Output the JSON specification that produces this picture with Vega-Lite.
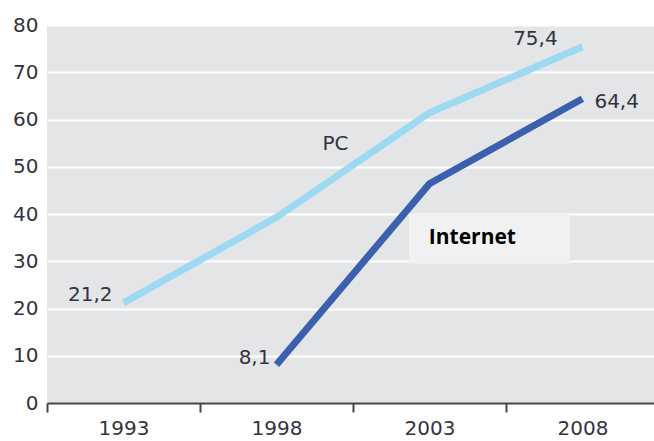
{
  "$schema": "https://vega.github.io/schema/vega-lite/v6.json",
  "autosize": "none",
  "width": 607,
  "height": 378,
  "padding": {"left": 47, "top": 25, "right": 0, "bottom": 38},
  "background": "white",
  "view": {"fill": "#e4e5e7", "stroke": null},
  "config": {
    "font": "DejaVu Sans",
    "axis": {"labelFont": "DejaVu Sans", "labelFontSize": 20, "labelColor": "#33333f", "title": null}
  },
  "datasets": {
    "series": [
      {"year": 1993, "series": "PC", "value": 21.2, "label": "21,2"},
      {"year": 1998, "series": "PC", "value": 39.3, "label": ""},
      {"year": 2003, "series": "PC", "value": 61.4, "label": ""},
      {"year": 2008, "series": "PC", "value": 75.4, "label": "75,4"},
      {"year": 1998, "series": "Internet", "value": 8.1, "label": "8,1"},
      {"year": 2003, "series": "Internet", "value": 46.4, "label": ""},
      {"year": 2008, "series": "Internet", "value": 64.4, "label": "64,4"}
    ]
  },
  "encoding": {
    "x": {
      "field": "year", "type": "quantitative",
      "scale": {"domain": [1990.5, 2010.34], "nice": false, "zero": false},
      "axis": {
        "values": [1990.5, 1993, 1995.5, 1998, 2000.5, 2003, 2005.5, 2008],
        "labelExpr": "datum.value % 1 === 0 ? datum.value + '' : ''",
        "tickOpacity": {"condition": {"test": "datum.value % 1 === 0", "value": 0}, "value": 1},
        "tickSize": 9, "tickWidth": 2, "tickColor": "#444444",
        "domainColor": "#444444", "domainWidth": 2,
        "labelPadding": 6, "grid": false, "labelOverlap": false, "labelFlush": false
      }
    },
    "y": {
      "field": "value", "type": "quantitative",
      "scale": {"domain": [0, 80], "nice": false},
      "axis": {
        "values": [0, 10, 20, 30, 40, 50, 60, 70, 80],
        "grid": true, "gridColor": "#ffffff", "gridWidth": 2,
        "domain": false, "ticks": false, "labelPadding": 9
      }
    }
  },
  "layer": [
    {
      "data": {"values": [{"x1": 2002.33, "x2": 2007.59, "y1": 40.24, "y2": 29.46}]},
      "mark": {"type": "rect", "fill": "#f1f1f1"},
      "encoding": {
        "x": {"field": "x1", "type": "quantitative"},
        "x2": {"field": "x2"},
        "y": {"field": "y1", "type": "quantitative"},
        "y2": {"field": "y2"}
      }
    },
    {
      "data": {"name": "series"},
      "mark": {"type": "line", "strokeWidth": 7, "strokeCap": "butt"},
      "encoding": {
        "color": {
          "field": "series", "type": "nominal",
          "scale": {"domain": ["PC", "Internet"], "range": ["#9dd9f2", "#3b60ae"]},
          "legend": null
        },
        "order": {"field": "year"}
      }
    },
    {
      "data": {"name": "series"},
      "transform": [{"filter": "datum.label === '21,2'"}],
      "mark": {"type": "text", "align": "right", "baseline": "middle", "dx": -11, "dy": -8, "fontSize": 20, "color": "#33333f"},
      "encoding": {"text": {"field": "label"}}
    },
    {
      "data": {"name": "series"},
      "transform": [{"filter": "datum.label === '8,1'"}],
      "mark": {"type": "text", "align": "right", "baseline": "middle", "dx": -6, "dy": -7, "fontSize": 20, "color": "#33333f"},
      "encoding": {"text": {"field": "label"}}
    },
    {
      "data": {"name": "series"},
      "transform": [{"filter": "datum.label === '75,4'"}],
      "mark": {"type": "text", "align": "center", "baseline": "middle", "dx": -47, "dy": -8, "fontSize": 20, "color": "#33333f"},
      "encoding": {"text": {"field": "label"}}
    },
    {
      "data": {"name": "series"},
      "transform": [{"filter": "datum.label === '64,4'"}],
      "mark": {"type": "text", "align": "left", "baseline": "middle", "dx": 12, "dy": 3, "fontSize": 20, "color": "#33333f"},
      "encoding": {"text": {"field": "label"}}
    },
    {
      "data": {"values": [
        {"year": 1999.93, "value": 54.8, "text": "PC", "kind": "pc"}
      ]},
      "mark": {"type": "text", "align": "center", "baseline": "middle", "fontSize": 20, "color": "#33333f"},
      "encoding": {"text": {"field": "text"}}
    },
    {
      "data": {"values": [
        {"year": 2002.98, "value": 34.96, "text": "Internet"}
      ]},
      "mark": {"type": "text", "align": "left", "baseline": "middle", "font": "Open Sans", "fontWeight": "bold", "fontSize": 21, "color": "#000000"},
      "encoding": {"text": {"field": "text"}}
    }
  ]
}
